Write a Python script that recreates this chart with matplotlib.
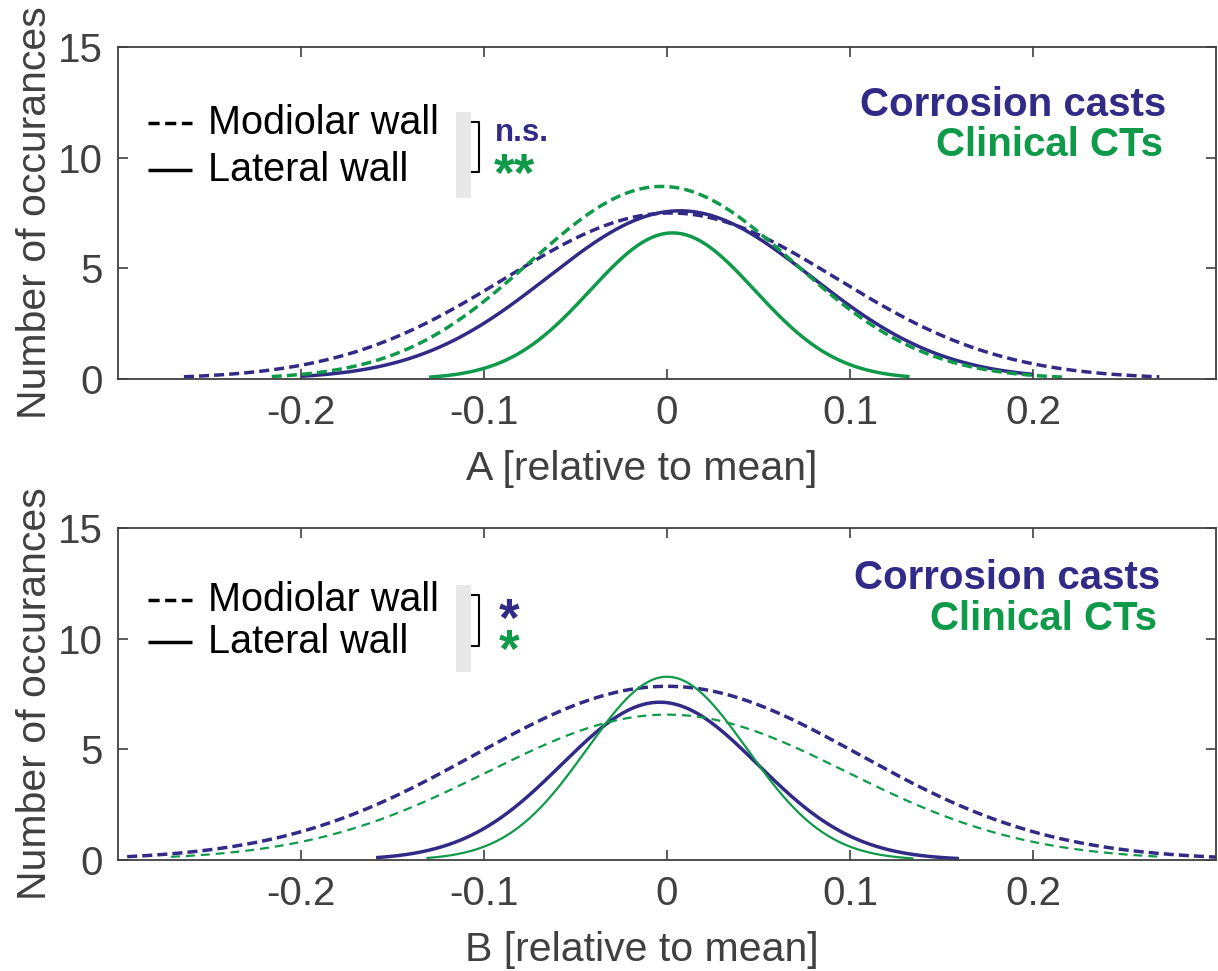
import numpy as np
import matplotlib
matplotlib.use("Agg")
import matplotlib.pyplot as plt
from matplotlib.patches import Rectangle

plt.rcParams['font.family'] = ['Liberation Sans', 'DejaVu Sans']

# curve order: casts modiolar, casts lateral, CTs modiolar, CTs lateral
groups = ['Corrosion casts', 'Corrosion casts', 'Clinical CTs', 'Clinical CTs']
walls = ['Modiolar wall', 'Lateral wall', 'Modiolar wall', 'Lateral wall']

# panel A: fitted normal curves (peak height, centre, sigma, plotted x range)
peak_A = [7.5, 7.6, 8.7, 6.6]
mu_A = [0.002, 0.007, -0.003, 0.003]
sigma_A = [0.0905, 0.072, 0.072, 0.045]
lo_A = [-0.264, -0.200, -0.216, -0.130]
hi_A = [0.269, 0.200, 0.217, 0.1325]

# panel B
peak_B = [7.85, 7.13, 6.57, 8.28]
mu_B = [0.0, -0.004, 0.0, 0.0]
sigma_B = [0.105, 0.0535, 0.098, 0.0437]
lo_B = [-0.295, -0.159, -0.271, -0.1315]
hi_B = [0.300, 0.1595, 0.2705, 0.1347]

xlabels = ['A [relative to mean]', 'B [relative to mean]']
sig_casts = ['n.s.', '*']
sig_cts = ['**', '*']

xticks = [-0.2, -0.1, 0, 0.1, 0.2]
xticklabels = ['-0.2', '-0.1', '0', '0.1', '0.2']
yticks = [0, 5, 10, 15]

BLUE = '#312b87'
GREEN = '#0f9a4a'
GRAY = '#404040'
colors = {'Corrosion casts': BLUE, 'Clinical CTs': GREEN}

fig = plt.figure(figsize=(12.18, 9.71), dpi=100)
axA = fig.add_axes([0.0969, 0.6097, 0.9015, 0.3419])
axB = fig.add_axes([0.0969, 0.1143, 0.9015, 0.3419])

panels = [
    (axA, peak_A, mu_A, sigma_A, lo_A, hi_A, [2.5, 2.5, 2.5, 2.5]),
    (axB, peak_B, mu_B, sigma_B, lo_B, hi_B, [2.5, 2.5, 1.6, 1.6]),
]

# hand-made legend placement per panel (axes fractions)
leg_y = [(0.771, 0.630), (0.783, 0.657)]
rect_y = [(0.545, 0.804), (0.566, 0.828)]
brk_y = [(0.774, 0.622), (0.798, 0.645)]
label_y = [(0.825, 0.705), (0.849, 0.727)]
label_x = [0.955, 0.949]

for i, (ax, peaks, mus, sigmas, los, his, lws) in enumerate(panels):
    for g, w, p, m, s, lo, hi, lw in zip(groups, walls, peaks, mus, sigmas,
                                         los, his, lws):
        x = np.linspace(lo, hi, 400)
        y = p * np.exp(-(x - m) ** 2 / (2 * s ** 2))
        if w == 'Modiolar wall':
            dash = (2.9, 1.45) if lw > 2 else (4.0, 2.7)
            ax.plot(x, y, color=colors[g], lw=lw, dashes=dash)
        else:
            ax.plot(x, y, color=colors[g], lw=lw, solid_capstyle='butt')

    ax.set_xlim(-0.3, 0.3)
    ax.set_ylim(0, 15)
    ax.set_xticks(xticks)
    ax.set_xticklabels(xticklabels)
    ax.set_yticks(yticks)
    ax.tick_params(direction='in', length=7, width=1.2, top=True, right=True,
                   labelsize=29, colors=GRAY, pad=11)
    for sp in ax.spines.values():
        sp.set_color(GRAY)
        sp.set_linewidth(1.3)
    ax.set_xlabel(xlabels[i], fontsize=29.5, color=GRAY, labelpad=10)
    ax.xaxis.set_label_coords(0.477, -0.215)
    ax.set_ylabel('Number of occurances', fontsize=29.5, color=GRAY, labelpad=3)

    tr = ax.transAxes
    y1, y2 = leg_y[i]
    ax.plot([0.027, 0.067], [y1, y1], color='black', lw=2.5,
            dashes=(3.2, 1.6), transform=tr)
    ax.plot([0.027, 0.067], [y2, y2], color='black', lw=2.5,
            solid_capstyle='butt', transform=tr)
    ax.text(0.082, y1, 'Modiolar wall', fontsize=28.5, color='black',
            va='center', ha='left', transform=tr)
    ax.text(0.082, y2, 'Lateral wall', fontsize=28.5, color='black',
            va='center', ha='left', transform=tr)
    r0, r1 = rect_y[i]
    ax.add_patch(Rectangle((0.308, r0), 0.0137, r1 - r0, transform=tr,
                           facecolor='#e8e8e8', edgecolor='none'))
    b0, b1 = brk_y[i]
    ax.plot([0.3225, 0.3285, 0.3285, 0.3225], [b0, b0, b1, b1],
            color='black', lw=1.5, transform=tr)

    if i == 0:
        ax.text(0.343, 0.741, sig_casts[i], fontsize=22.5, fontweight='bold',
                color=BLUE, va='center', ha='left', transform=tr)
        ax.text(0.3425, 0.61, sig_cts[i], fontsize=38, fontweight='bold',
                color=GREEN, va='center', ha='left', transform=tr)
    else:
        ax.text(0.356, 0.718, sig_casts[i], fontsize=38, fontweight='bold',
                color=BLUE, va='center', ha='center', transform=tr)
        ax.text(0.356, 0.625, sig_cts[i], fontsize=38, fontweight='bold',
                color=GREEN, va='center', ha='center', transform=tr)

    ly1, ly2 = label_y[i]
    ax.text(label_x[i], ly1, 'Corrosion casts', fontsize=29,
            fontweight='bold', color=BLUE, va='center', ha='right', transform=tr)
    ax.text(label_x[i] - 0.003, ly2, 'Clinical CTs', fontsize=29,
            fontweight='bold', color=GREEN, va='center', ha='right', transform=tr)

fig.savefig('out.png', dpi=100)
